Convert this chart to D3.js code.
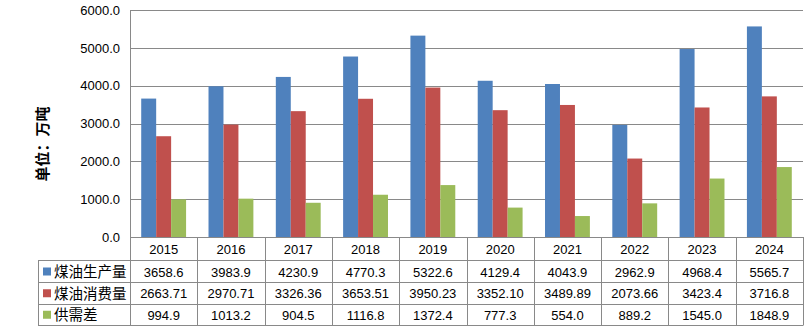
<!DOCTYPE html>
<html><head><meta charset="utf-8">
<script src="https://cdn.jsdelivr.net/npm/d3@7"></script>
<style>body{margin:0;background:#fff}svg{display:block}</style>
</head><body>
<script>
const years = ["2015","2016","2017","2018","2019","2020","2021","2022","2023","2024"];
const seriesNames = ["煤油生产量","煤油消费量","供需差"];
const production = [3658.6,3983.9,4230.9,4770.3,5322.6,4129.4,4043.9,2962.9,4968.4,5565.7];
const consumption = [2663.71,2970.71,3326.36,3653.51,3950.23,3352.10,3489.89,2073.66,3423.4,3716.8];
const gap = [994.9,1013.2,904.5,1116.8,1372.4,777.3,554.0,889.2,1545.0,1848.9];
const productionLabels = ["3658.6","3983.9","4230.9","4770.3","5322.6","4129.4","4043.9","2962.9","4968.4","5565.7"];
const consumptionLabels = ["2663.71","2970.71","3326.36","3653.51","3950.23","3352.10","3489.89","2073.66","3423.4","3716.8"];
const gapLabels = ["994.9","1013.2","904.5","1116.8","1372.4","777.3","554.0","889.2","1545.0","1848.9"];
const yTicks = [0,1000,2000,3000,4000,5000,6000];
const colors = ["#4F81BD","#C0504D","#9BBB59"];

(function(){
const W=812,H=332;
const svg=d3.select("body").append("svg").attr("width",W).attr("height",H);
const pLeft=130,pRight=803,pTop=10,pBottom=237;
const rowY=[237,260,282,303.5,325];
const tableLeft=38;
const lineColor="#898989";

const x=d3.scaleBand().domain(years).range([pLeft,pRight]).paddingInner(0).paddingOuter(0);
const xs=d3.scaleBand().domain(seriesNames).range([0,x.bandwidth()]).paddingInner(0).paddingOuter(0.75);
const y=d3.scaleLinear().domain([0,6000]).range([pBottom,pTop]);

svg.append("g").selectAll("line").data(yTicks.filter(d=>d>0)).join("line")
  .attr("x1",pLeft).attr("x2",pRight)
  .attr("y1",d=>Math.round(y(d))+0.5).attr("y2",d=>Math.round(y(d))+0.5)
  .attr("stroke",lineColor).attr("stroke-width",1);

const yAxis=d3.axisLeft(y).tickValues(yTicks).tickFormat(d3.format(".1f")).tickSize(0).tickPadding(10);
const ga=svg.append("g").attr("transform",`translate(${pLeft},0)`).call(yAxis);
ga.select(".domain").remove();
ga.selectAll("text").attr("font-family","Liberation Sans, Arial, sans-serif").attr("font-size",13).attr("fill","#000");

const data=[production,consumption,gap];
const gb=svg.append("g");
seriesNames.forEach((s,si)=>{
  gb.selectAll(null).data(years).join("rect")
    .attr("x",(d)=>x(d)+xs(s))
    .attr("width",xs.bandwidth())
    .attr("y",(d,i)=>y(data[si][i]))
    .attr("height",(d,i)=>pBottom-y(data[si][i]))
    .attr("fill",colors[si]);
});

const tl=svg.append("g").attr("stroke",lineColor).attr("stroke-width",1);
tl.append("line").attr("x1",pLeft).attr("x2",pRight).attr("y1",pBottom+0.5).attr("y2",pBottom+0.5);
rowY.slice(1).forEach(yy=>{
  tl.append("line").attr("x1",tableLeft).attr("x2",pRight).attr("y1",Math.round(yy)+0.5).attr("y2",Math.round(yy)+0.5);
});
tl.append("line").attr("x1",pLeft+0.5).attr("x2",pLeft+0.5).attr("y1",pTop).attr("y2",rowY[4]+0.5);
tl.append("line").attr("x1",tableLeft+0.5).attr("x2",tableLeft+0.5).attr("y1",rowY[1]).attr("y2",rowY[4]+0.5);
years.forEach(yr=>{
  const xx=Math.round(x(yr)+x.bandwidth())+0.5;
  tl.append("line").attr("x1",xx).attr("x2",xx).attr("y1",pBottom).attr("y2",rowY[4]+0.5);
});

const gt=svg.append("g").attr("font-family","Liberation Sans, Arial, sans-serif").attr("font-size",13).attr("fill","#000").attr("text-anchor","middle");
gt.selectAll(null).data(years).join("text")
  .attr("x",d=>x(d)+x.bandwidth()/2).attr("y",(rowY[0]+rowY[1])/2+1).attr("dy","0.35em").text(d=>d);
const labelRows=[productionLabels,consumptionLabels,gapLabels];
labelRows.forEach((row,ri)=>{
  const cy=(rowY[ri+1]+rowY[ri+2])/2+1;
  gt.selectAll(null).data(row).join("text")
    .attr("x",(d,i)=>x(years[i])+x.bandwidth()/2).attr("y",cy).attr("dy","0.35em").text(d=>d);
  svg.append("rect").attr("x",43).attr("y",cy-4.5).attr("width",8).attr("height",8).attr("fill",colors[ri]);
  svg.append("text").attr("x",54).attr("y",cy).attr("dy","0.35em")
    .attr("font-family","Noto Sans CJK SC, sans-serif").attr("font-size",14.5).attr("fill","#000")
    .text(seriesNames[ri]);
});

svg.append("text").attr("transform","translate(43,144) rotate(-90)")
  .attr("text-anchor","middle").attr("dy","0.35em")
  .attr("font-family","Noto Sans CJK SC, sans-serif").attr("font-size",15).attr("font-weight","bold").attr("fill","#000")
  .text("单位：万吨");
})();
</script>
</body></html>
